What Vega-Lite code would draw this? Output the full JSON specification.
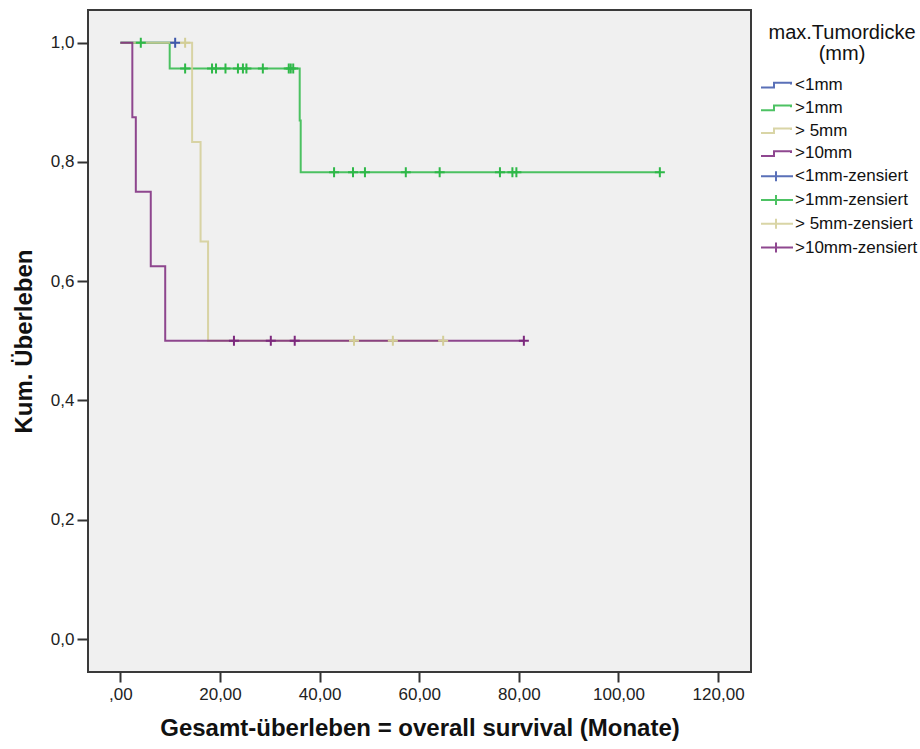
{
  "$schema": "https://vega.github.io/schema/vega-lite/v6.json",
  "width": 663,
  "height": 662,
  "autosize": {"type": "none"},
  "padding": {"left": 88, "top": 10, "right": 169, "bottom": 77},
  "background": "white",
  "config": {
    "font": "Liberation Sans",
    "view": {"fill": "#F0F0F0", "stroke": "#3A3A3A", "strokeWidth": 2},
    "axis": {
      "domain": false,
      "grid": false,
      "tickColor": "#333333",
      "tickWidth": 2,
      "labelFont": "Liberation Sans",
      "labelFontSize": 17,
      "labelColor": "#222222",
      "titleFont": "Liberation Sans",
      "titleFontSize": 24,
      "titleFontWeight": "bold",
      "titleColor": "#111111"
    }
  },
  "datasets": {
    "lines": [
      {"g": "<1mm", "t": 0, "s": 1},
      {"g": "<1mm", "t": 11.0, "s": 1},
      {"g": ">1mm", "t": 0, "s": 1},
      {"g": ">1mm", "t": 9.9, "s": 0.9565},
      {"g": ">1mm", "t": 36.0, "s": 0.8696},
      {"g": ">1mm", "t": 36.2, "s": 0.7826},
      {"g": ">1mm", "t": 108.3, "s": 0.7826},
      {"g": "> 5mm", "t": 0, "s": 1},
      {"g": "> 5mm", "t": 14.4, "s": 0.8333},
      {"g": "> 5mm", "t": 16.1, "s": 0.6667},
      {"g": "> 5mm", "t": 17.6, "s": 0.5},
      {"g": "> 5mm", "t": 64.8, "s": 0.5},
      {"g": ">10mm", "t": 0, "s": 1},
      {"g": ">10mm", "t": 2.4, "s": 0.875},
      {"g": ">10mm", "t": 3.1, "s": 0.75},
      {"g": ">10mm", "t": 6.1, "s": 0.625},
      {"g": ">10mm", "t": 9.0, "s": 0.5},
      {"g": ">10mm", "t": 81.0, "s": 0.5}
    ],
    "cens": [
      {"c": "<1mm-zensiert", "t": 11.0, "s": 1},
      {"c": ">1mm-zensiert", "t": 4.1, "s": 1},
      {"c": ">1mm-zensiert", "t": 13.0, "s": 0.9565},
      {"c": ">1mm-zensiert", "t": 18.4, "s": 0.9565},
      {"c": ">1mm-zensiert", "t": 19.2, "s": 0.9565},
      {"c": ">1mm-zensiert", "t": 21.1, "s": 0.9565},
      {"c": ">1mm-zensiert", "t": 23.6, "s": 0.9565},
      {"c": ">1mm-zensiert", "t": 24.6, "s": 0.9565},
      {"c": ">1mm-zensiert", "t": 25.3, "s": 0.9565},
      {"c": ">1mm-zensiert", "t": 28.6, "s": 0.9565},
      {"c": ">1mm-zensiert", "t": 33.8, "s": 0.9565},
      {"c": ">1mm-zensiert", "t": 34.2, "s": 0.9565},
      {"c": ">1mm-zensiert", "t": 34.7, "s": 0.9565},
      {"c": ">1mm-zensiert", "t": 42.9, "s": 0.7826},
      {"c": ">1mm-zensiert", "t": 46.7, "s": 0.7826},
      {"c": ">1mm-zensiert", "t": 49.1, "s": 0.7826},
      {"c": ">1mm-zensiert", "t": 57.3, "s": 0.7826},
      {"c": ">1mm-zensiert", "t": 64.1, "s": 0.7826},
      {"c": ">1mm-zensiert", "t": 76.2, "s": 0.7826},
      {"c": ">1mm-zensiert", "t": 78.7, "s": 0.7826},
      {"c": ">1mm-zensiert", "t": 79.5, "s": 0.7826},
      {"c": ">1mm-zensiert", "t": 108.3, "s": 0.7826},
      {"c": "> 5mm-zensiert", "t": 13.0, "s": 1},
      {"c": "> 5mm-zensiert", "t": 46.9, "s": 0.5},
      {"c": "> 5mm-zensiert", "t": 54.7, "s": 0.5},
      {"c": "> 5mm-zensiert", "t": 64.8, "s": 0.5},
      {"c": ">10mm-zensiert", "t": 22.8, "s": 0.5},
      {"c": ">10mm-zensiert", "t": 30.2, "s": 0.5},
      {"c": ">10mm-zensiert", "t": 35.0, "s": 0.5},
      {"c": ">10mm-zensiert", "t": 81.0, "s": 0.5}
    ]
  },
  "layer": [
    {
      "data": {"name": "lines"},
      "mark": {"type": "line", "interpolate": "step-after", "strokeWidth": 2, "opacity": 0.85},
      "encoding": {
        "x": {
          "field": "t", "type": "quantitative",
          "scale": {"domain": [-6.5, 126.6], "nice": false, "zero": false},
          "axis": {
            "values": [0, 20, 40, 60, 80, 100, 120],
            "labelExpr": "datum.value == 0 ? ',00' : replace(format(datum.value, '.2f'), '.', ',')",
            "tickSize": 10,
            "labelPadding": 4,
            "title": "Gesamt-überleben = overall survival (Monate)",
            "titlePadding": 14
          }
        },
        "y": {
          "field": "s", "type": "quantitative",
          "scale": {"domain": [-0.0553, 1.0548], "nice": false, "zero": false},
          "axis": {
            "values": [0, 0.2, 0.4, 0.6, 0.8, 1.0],
            "labelExpr": "replace(format(datum.value, '.1f'), '.', ',')",
            "tickSize": 11,
            "labelPadding": 3,
            "title": "Kum. Überleben",
            "titlePadding": 14
          }
        },
        "color": {
          "field": "g", "type": "nominal",
          "scale": {
            "domain": ["<1mm", ">1mm", "> 5mm", ">10mm", "<1mm-zensiert", ">1mm-zensiert", "> 5mm-zensiert", ">10mm-zensiert"],
            "range": ["#3E58AC", "#2EB848", "#D3CE97", "#7C287D", "#3E58AC", "#2EB848", "#D3CE97", "#7C287D"]
          },
          "legend": {
            "title": ["max.Tumordicke", "(mm)"],
            "orient": "none",
            "legendX": 678,
            "legendY": 13,
            "titleFont": "Liberation Sans",
            "titleFontSize": 20,
            "titleFontWeight": "normal",
            "titleColor": "#111111",
            "titleAlign": "center",
            "titleAnchor": "middle",
            "titleLineHeight": 21,
            "titlePadding": 10,
            "labelFont": "Liberation Sans",
            "labelFontSize": 17,
            "labelColor": "#111111",
            "labelLimit": 300,
            "symbolSize": 400,
            "symbolStrokeWidth": 2,
            "symbolType": {"expr": "indexof(datum.value, 'zensiert') >= 0 ? 'M-1.6,0H1.6M-0.1,-0.5V0.5' : 'M-1.6,0.25H-0.3V-0.22H1.4V-0.05'"},
            "labelOffset": 7,
            "rowPadding": 3.8
          }
        }
      }
    },
    {
      "data": {"name": "cens"},
      "mark": {"type": "point", "shape": "M-1,0H1M0,-1V1", "size": 100, "filled": false, "strokeWidth": 2, "opacity": 1},
      "encoding": {
        "x": {"field": "t", "type": "quantitative"},
        "y": {"field": "s", "type": "quantitative"},
        "color": {"field": "c", "type": "nominal", "legend": null}
      }
    }
  ]
}
